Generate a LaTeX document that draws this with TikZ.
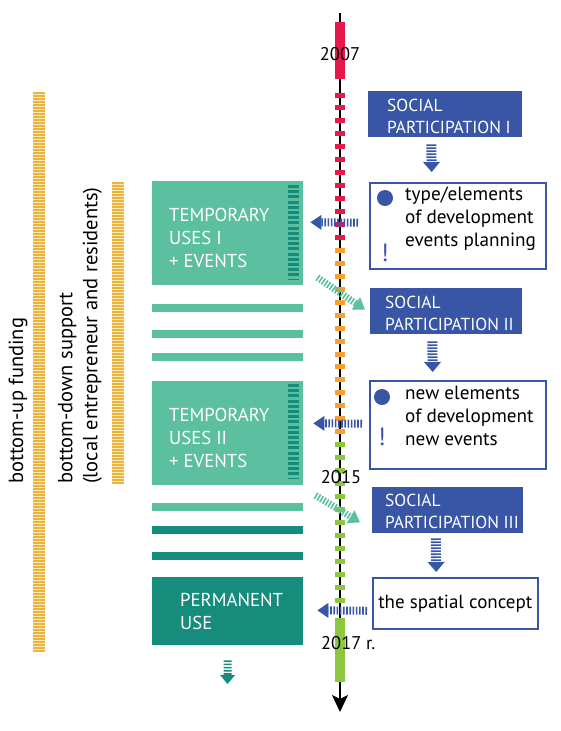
\documentclass[tikz,border=0pt]{standalone}
\usepackage{fontspec}
\setmainfont{PT Sans}
\usetikzlibrary{arrows.meta,calc}
\definecolor{tl}{HTML}{5CBF9F}
\definecolor{td}{HTML}{158C7C}
\definecolor{bl}{HTML}{3855A6}
\definecolor{rd}{HTML}{E6194B}
\definecolor{og}{HTML}{F7A030}
\definecolor{gr}{HTML}{8DC63F}
\definecolor{yl}{HTML}{EAB53A}
\tikzset{
  tbox/.style={fill=tl, draw=none, inner sep=0pt, anchor=north west, minimum width=151pt, minimum height=104pt},
  dbox/.style={fill=td, draw=none, inner sep=0pt, anchor=north west, minimum width=151pt, minimum height=68pt},
  bbox/.style={fill=bl, draw=none, inner sep=0pt, anchor=north west, minimum height=46pt},
  wbox/.style={fill=white, draw=bl, line width=1.6pt, inner sep=0pt, anchor=north west},
  wtxt/.style={text=white, anchor=west, align=left, inner sep=0pt, font=\fontsize{18.7}{23}\selectfont},
  btxt/.style={text=white, anchor=west, align=left, inner sep=0pt, font=\fontsize{17.4}{22}\selectfont},
  ktxt/.style={text=black, anchor=west, align=left, inner sep=0pt, font=\fontsize{19.2}{23}\selectfont},
  yeartxt/.style={text=black, inner sep=0pt, font=\fontsize{18.4}{20}\selectfont},
  dot/.style={circle, fill=bl, minimum size=16pt, inner sep=0pt},
  excl/.style={text=bl, inner sep=0pt, font=\fontsize{25}{25}\selectfont},
  bdown/.style={draw=bl, line width=10pt, dash pattern=on 1.6pt off 1.4pt, -{Triangle[length=10pt,width=17pt,line width=0pt]}},
  bleft/.style={draw=bl, line width=8pt, dash pattern=on 1.6pt off 1.6pt, -{Triangle[length=11pt,width=15pt,line width=0pt]}},
  gdiag/.style={draw=tl, line width=7pt, dash pattern=on 1.6pt off 1.6pt, -{Triangle[length=11pt,width=15pt,line width=0pt]}},
  tdown/.style={draw=td, line width=8pt, dash pattern=on 1.6pt off 1.6pt, -{Triangle[length=9pt,width=15pt,line width=0pt]}},
  sidetxt/.style={rotate=90, anchor=west, align=left, inner sep=0pt, font=\fontsize{20.5}{25}\selectfont},
}
\begin{document}
\begin{tikzpicture}[x=1pt,y=-1pt]
\useasboundingbox (0,0) rectangle (560,731);
\fill[white] (0,0) rectangle (560,731);

% left funding bars
\fill[yl!30] (33,92) rectangle (45,652);
\draw[yl, line width=12pt, dash pattern=on 2pt off 1pt] (39,92) -- (39,652);
\fill[yl!30] (112,182) rectangle (124,484);
\draw[yl, line width=12pt, dash pattern=on 2pt off 1pt] (118,182) -- (118,484);
\node[sidetxt] (fund) at (18,484) {bottom-up funding};
\node[sidetxt] (supp) at (80,484) {bottom-down support\\(local entrepreneur and residents)};

% timeline
\coordinate (ttop) at (340,13);
\coordinate (tbot) at (340,712);
\draw[line width=1.4pt, -{Stealth[length=17pt,width=16pt,inset=4pt]}] (ttop) -- (tbot);
\fill[rd] (335,22) rectangle (345,79);
\foreach \i in {0,...,39}{
  \pgfmathsetmacro{\yy}{95+12.95*\i}
  \ifnum\i<12 \def\cc{rd}\else\ifnum\i<27 \def\cc{og}\else\def\cc{gr}\fi\fi
  \fill[\cc] (335,\yy-2.5) rectangle (345,\yy+2.5);
}
\fill[gr] (335,618) rectangle (345,682);
\node[yeartxt] (y2007) at (340,54) {2007};
\node[yeartxt] (y2015) at (341,477) {2015};
\node[yeartxt, anchor=west] (y2017) at (321,643) {2017 r.};

% green boxes
\node[tbox] (t1) at (152,181) {};
\draw[td, line width=11pt, dash pattern=on 3pt off 2.2pt] (293.5,185) -- (293.5,280);
\node[wtxt] (t1l) at (169,238) {TEMPORARY\\USES I\\+ EVENTS};
\fill[tl] (152,304) rectangle (303,312);
\fill[tl] (152,330) rectangle (303,338);
\fill[tl] (152,353) rectangle (303,361);

\node[tbox] (t2) at (152,381) {};
\draw[td, line width=11pt, dash pattern=on 3pt off 2.2pt] (293.5,384) -- (293.5,479);
\node[wtxt] (t2l) at (169,438) {TEMPORARY\\USES II\\+ EVENTS};
\fill[tl] (152,503) rectangle (303,511);
\fill[td] (152,526) rectangle (303,534);
\fill[td] (152,552) rectangle (303,560);

\node[dbox] (p) at (152,577) {};
\node[wtxt] (pl) at (180,611) {PERMANENT\\USE};
\coordinate (pend) at (227.5,684);
\draw[tdown] (p.south) -- (pend) [shorten <=15pt];

% social participation boxes
\node[bbox, minimum width=154pt] (sp1) at (368,91) {};
\node[btxt] (sp1l) at (387,116) {SOCIAL\\PARTICIPATION I};
\node[bbox, minimum width=152pt] (sp2) at (370,288) {};
\node[btxt] (sp2l) at (385,313) {SOCIAL\\PARTICIPATION II};
\node[bbox, minimum width=151pt] (sp3) at (372,487) {};
\node[btxt] (sp3l) at (385,511) {SOCIAL\\PARTICIPATION III};

% white boxes
\node[wbox, minimum width=176pt, minimum height=86pt] (w1) at (369,182) {};
\node[dot] (d1) at (385,198) {};
\node[excl] (e1) at (385,253) {!};
\node[ktxt] (w1l) at (405,219) {type/elements\\of development\\events planning};

\node[wbox, minimum width=176pt, minimum height=88pt] (w2) at (369,380) {};
\node[dot] (d2) at (382,397) {};
\node[excl] (e2) at (382,437) {!};
\node[ktxt] (w2l) at (405,416) {new elements\\of development\\new events};

\node[wbox, minimum width=165pt, minimum height=51pt] (w3) at (372,577) {};
\node[ktxt, font=\fontsize{19}{20}\selectfont, anchor=center] (w3l) at (w3.center) {the spatial concept};

% down arrows
\draw[bdown, shorten <=7pt, shorten >=10pt] ([xshift=-14pt]sp1.south) -- ([xshift=-26pt]w1.north);
\draw[bdown, shorten <=7pt, shorten >=8pt] ([xshift=-14pt]sp2.south) -- ([xshift=-25pt]w2.north);
\draw[bdown, shorten <=5pt, shorten >=5pt] ([xshift=-12pt]sp3.south) -- ([xshift=-19pt]w3.north);

% left arrows
\draw[bleft, shorten <=11pt, shorten >=7pt] ([yshift=3pt]w1.west) -- ([yshift=11pt]t1.east);
\draw[bleft, shorten <=7pt, shorten >=10pt] ([yshift=1pt]w2.west) -- ([yshift=10pt]t2.east);
\draw[bleft, shorten <=5pt, shorten >=14pt] ([yshift=-7.5pt]w3.west) -- ([yshift=1pt]p.east);

% diagonal arrows
\draw[gdiag] ([xshift=14pt,yshift=8pt]t1.south east) -- ([xshift=-5pt,yshift=1.5pt]sp2.west);
\draw[gdiag] ([xshift=12pt,yshift=-10pt]t2.south east) -- ([xshift=-12pt,yshift=11pt]sp3.south west);
\end{tikzpicture}
\end{document}
